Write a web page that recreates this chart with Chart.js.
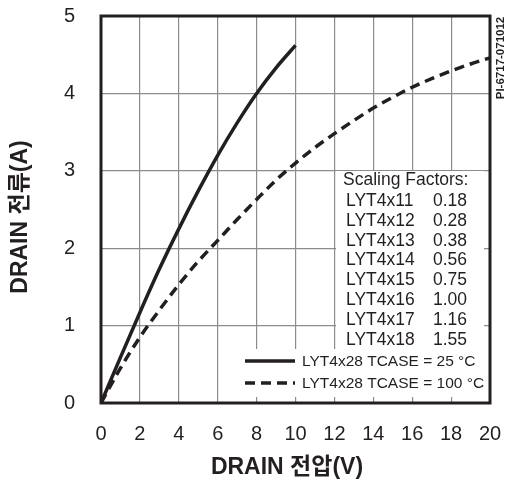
<!DOCTYPE html>
<html>
<head>
<meta charset="utf-8">
<script src="https://cdn.jsdelivr.net/npm/chart.js@4.4.1/dist/chart.umd.min.js"></script>
<style>
  html, body { margin: 0; padding: 0; background: #fff; }
  #wrap { width: 509px; height: 485px; }
</style>
</head>
<body>
<div id="wrap"><canvas id="chart" width="509" height="485"></canvas></div>
<script>
const FONT = '"Liberation Sans", Arial, "Noto Sans CJK KR", sans-serif';
const INK = '#231f20';

// drain voltage (V) / drain current (A)
const v25 = [0, 1, 2, 3, 4, 5, 6, 7, 8, 9, 10];
const i25 = [0, 0.59, 1.17, 1.73, 2.25, 2.74, 3.2, 3.62, 4.0, 4.33, 4.62];
const v100 = [0, 1, 2, 3, 4, 5, 6, 7, 8, 9, 10, 11, 12, 13, 14, 15, 16, 17, 18, 19, 20];
const i100 = [0, 0.45, 0.85, 1.2, 1.53, 1.83, 2.1, 2.37, 2.63, 2.88, 3.1, 3.3, 3.48, 3.65, 3.81, 3.95, 4.08, 4.19, 4.29, 4.38, 4.46];

const seriesNames = ['LYT4x28 TCASE = 25 °C', 'LYT4x28 TCASE = 100 °C'];
const partNames = ['LYT4x11', 'LYT4x12', 'LYT4x13', 'LYT4x14', 'LYT4x15', 'LYT4x16', 'LYT4x17', 'LYT4x18'];
const scaleFactors = ['0.18', '0.28', '0.38', '0.56', '0.75', '1.00', '1.16', '1.55'];

const xTitle = 'DRAIN 전압(V)';
const yTitle = 'DRAIN 전류(A)';
const figId = 'PI-6717-071012';

const pts = (xs, ys) => xs.map((x, i) => ({ x: x, y: ys[i] }));

// keep the plot box fixed: no extra room for overhanging tick labels
const fixScale = (s, size) => {
  if (s.isHorizontal()) s.height = size; else s.width = size;
  s.paddingTop = 0;
  s.paddingBottom = 0;
  s.paddingLeft = 0;
  s.paddingRight = 0;
};

// white panel behind the legend text, grid lines stop at it
const panelPlugin = {
  id: 'panel',
  beforeDatasetsDraw(chart) {
    const ctx = chart.ctx;
    ctx.save();
    ctx.fillStyle = '#fff';
    ctx.fillRect(336, 171, 148, 178);
    ctx.fillRect(243, 349, 241, 48);
    ctx.restore();
  },
  afterDraw(chart) {
    const ctx = chart.ctx;
    const a = chart.chartArea;
    ctx.save();

    // frame
    ctx.strokeStyle = INK;
    ctx.lineWidth = 3;
    ctx.strokeRect(a.left, a.top, a.right - a.left, a.bottom - a.top);

    ctx.fillStyle = INK;
    ctx.textBaseline = 'middle';

    // scaling factor table
    ctx.font = '17.5px ' + FONT;
    ctx.textAlign = 'left';
    ctx.fillText('Scaling Factors:', 343, 180);
    partNames.forEach((p, i) => {
      const y = 201 + i * 19.86;
      ctx.fillText(p, 346, y);
      ctx.fillText(scaleFactors[i], 433, y);
    });

    // series legend
    const ds = chart.data.datasets;
    ctx.font = '15.5px ' + FONT;
    [361, 383].forEach((y, i) => {
      ctx.beginPath();
      ctx.strokeStyle = INK;
      ctx.lineWidth = 3.5;
      ctx.setLineDash(ds[i].borderDash || []);
      ctx.moveTo(245, y);
      ctx.lineTo(295, y);
      ctx.stroke();
      ctx.setLineDash([]);
      ctx.fillText(seriesNames[i], 302, y + 1);
    });

    // axis titles
    ctx.font = 'bold 23px ' + FONT;
    ctx.textAlign = 'center';
    ctx.fillText(xTitle, 287, 468);
    ctx.save();
    ctx.translate(21, 217);
    ctx.rotate(-Math.PI / 2);
    ctx.fillText(yTitle, 0, 0);
    ctx.restore();

    // figure id
    ctx.save();
    ctx.font = 'bold 11.5px ' + FONT;
    ctx.translate(501, 58);
    ctx.rotate(-Math.PI / 2);
    ctx.fillText(figId, 0, 0);
    ctx.restore();

    ctx.restore();
  }
};

new Chart(document.getElementById('chart'), {
  type: 'scatter',
  data: {
    datasets: [
      {
        label: seriesNames[0],
        data: pts(v25, i25),
        showLine: true,
        borderColor: INK,
        borderWidth: 3.5,
        pointRadius: 0,
        cubicInterpolationMode: 'monotone',
      },
      {
        label: seriesNames[1],
        data: pts(v100, i100),
        showLine: true,
        borderColor: INK,
        borderWidth: 3.5,
        borderDash: [10, 6],
        pointRadius: 0,
        cubicInterpolationMode: 'monotone',
      },
    ],
  },
  options: {
    responsive: false,
    animation: false,
    layout: { padding: { top: 16, right: 19, left: 0, bottom: 0 } },
    plugins: {
      legend: { display: false },
      tooltip: { enabled: false },
    },
    scales: {
      x: {
        type: 'linear',
        min: 0,
        max: 20,
        afterFit: (s) => fixScale(s, 82),
        ticks: { stepSize: 2, padding: 19, color: INK, font: { family: FONT, size: 20 } },
        grid: { color: '#8c8c8c', lineWidth: 1.2, drawTicks: false },
        border: { display: false },
      },
      y: {
        min: 0,
        max: 5,
        afterFit: (s) => fixScale(s, 101),
        ticks: { stepSize: 1, padding: 26, color: INK, font: { family: FONT, size: 20 } },
        grid: { color: '#8c8c8c', lineWidth: 1.2, drawTicks: false },
        border: { display: false },
      },
    },
  },
  plugins: [panelPlugin],
});
</script>
</body>
</html>
